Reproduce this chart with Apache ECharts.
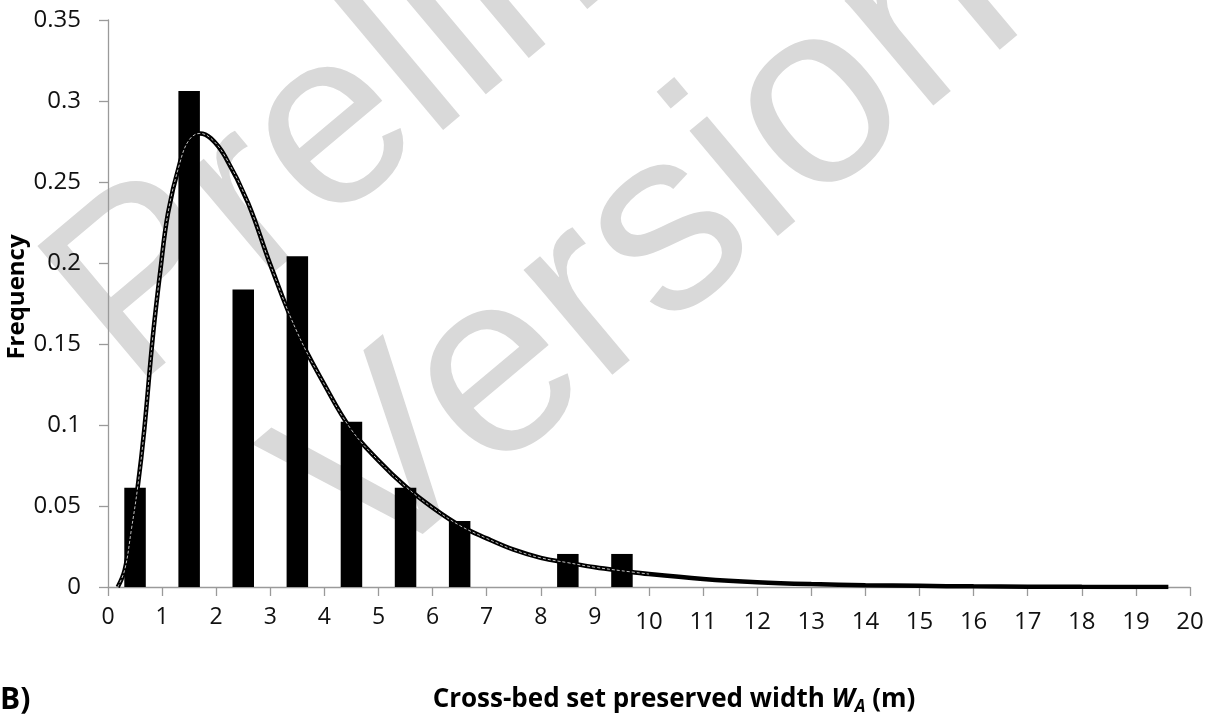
<!DOCTYPE html>
<html>
<head>
<meta charset="utf-8">
<script src="https://cdn.jsdelivr.net/npm/echarts@6/dist/echarts.min.js"></script>
<style>
html,body{margin:0;padding:0;background:#fff;}
#chart{width:1210px;height:726px;}
</style>
</head>
<body>
<div id="chart"></div>
<script>
// Histogram bins (bin centres, m) and frequencies
var binCentres = [0.5, 1.5, 2.5, 3.5, 4.5, 5.5, 6.5, 7.5, 8.5, 9.5];
var frequencies = [0.0612, 0.3061, 0.1837, 0.2041, 0.1020, 0.0612, 0.0408, 0, 0.0204, 0.0204];

// Fitted distribution curve
var curveX = [0.18, 0.31, 0.43, 0.55, 0.67, 0.83, 0.97, 1.11, 1.33, 1.5, 1.7, 1.9, 2.16, 2.59, 3.0, 3.5, 4.0, 4.5, 5.0, 5.5, 6.0, 6.5, 7.0, 7.5, 8.0, 8.5, 9.0, 9.5, 10, 11, 12, 13, 14, 15, 16, 17, 18, 19, 19.6];
var curveY = [0, 0.0107, 0.035, 0.062, 0.097, 0.155, 0.196, 0.231, 0.262, 0.276, 0.280, 0.277, 0.266, 0.237, 0.199, 0.157, 0.125, 0.097, 0.078, 0.062, 0.049, 0.038, 0.030, 0.023, 0.018, 0.0150, 0.0122, 0.0100, 0.0080, 0.0050, 0.0030, 0.0018, 0.0011, 0.0007, 0.0004, 0.0002, 0.0001, 0.00005, 0];

var yTicks = [0, 0.05, 0.1, 0.15, 0.2, 0.25, 0.3, 0.35];
var xTickMin = 0, xTickMax = 20;

var barData = binCentres.map(function (x, i) { return [x, frequencies[i]]; });
var curveData = curveX.map(function (x, i) { return [x, curveY[i]]; });
var innerData = curveData.filter(function (p) { return p[0] <= 10.2; });

var FONT = '"Open Sans", sans-serif';
var WM = '"Liberation Sans", Arial, sans-serif';
var chart = echarts.init(document.getElementById('chart'), null, {renderer: 'canvas'});
chart.setOption({
  backgroundColor: '#ffffff',
  animation: false,
  grid: {left: 108, right: 20, top: 20, bottom: 139, containLabel: false},
  xAxis: {
    type: 'value', min: xTickMin, max: xTickMax, interval: 1,
    axisLine: {lineStyle: {color: '#9a9a9a', width: 1.3}},
    axisTick: {show: true, length: 9, lineStyle: {color: '#9a9a9a', width: 1.3}},
    splitLine: {show: false},
    axisLabel: {
      margin: 19, color: '#111', fontFamily: FONT, fontSize: 24,
      formatter: function (v) { return v >= 10 ? '{b|' + v + '}' : '{a|' + v + '}'; },
      rich: {
        a: {fontFamily: FONT, fontSize: 23, color: '#111'},
        b: {fontFamily: FONT, fontSize: 24, color: '#111', padding: [4, 0, 0, 0]}
      }
    }
  },
  yAxis: {
    type: 'value', min: yTicks[0], max: yTicks[yTicks.length - 1], interval: 0.05,
    axisLine: {show: true, lineStyle: {color: '#9a9a9a', width: 1.3}},
    axisTick: {show: true, length: 9, lineStyle: {color: '#9a9a9a', width: 1.3}},
    splitLine: {show: false},
    axisLabel: {margin: 27, color: '#111', fontFamily: FONT, fontSize: 24,
      formatter: function (v) { return String(Math.round(v * 100) / 100); }}
  },
  graphic: [
    {type: 'text', z: -10, x: 88, y: 338, rotation: 40 * Math.PI / 180,
      style: {text: 'Preliminary', fontFamily: WM, fontSize: 250,
        fill: '#d9d9d9', align: 'left', verticalAlign: 'middle'}},
    {type: 'text', z: -10, x: 652, y: 248, rotation: 40 * Math.PI / 180,
      style: {text: 'Version', fontFamily: WM, fontSize: 260,
        fill: '#d9d9d9', align: 'center', verticalAlign: 'middle'}},
    {type: 'text', x: 17, y: 297, rotation: Math.PI / 2,
      style: {text: 'Frequency', fontFamily: FONT, fontWeight: 'bold', fontSize: 24,
        fill: '#000', align: 'center', verticalAlign: 'middle'}},
    {type: 'text', x: 0, y: 700,
      style: {text: 'B)', fontFamily: FONT, fontWeight: 'bold', fontSize: 30,
        fill: '#000', align: 'left', verticalAlign: 'middle'}},
    {type: 'text', x: 674, y: 700,
      style: {
        text: '{n|Cross-bed set preserved width }{i|W}{s|A}{n| (m)}',
        align: 'center', verticalAlign: 'middle',
        rich: {
          n: {fontFamily: FONT, fontWeight: 'bold', fontSize: 26, fill: '#000'},
          i: {fontFamily: FONT, fontWeight: 'bold', fontStyle: 'italic', fontSize: 26, fill: '#000'},
          s: {fontFamily: FONT, fontWeight: 'bold', fontStyle: 'italic', fontSize: 17, fill: '#000', padding: [14, 0, 0, 0]}
        }
      }}
  ],
  series: [
    {type: 'bar', data: barData, barWidth: 21.5, itemStyle: {color: '#000'}, z: 2},
    {type: 'line', data: curveData, smooth: 0.4, showSymbol: false,
      lineStyle: {color: '#000', width: 4.5}, z: 3},
    {type: 'line', data: innerData, smooth: 0.4, showSymbol: false,
      lineStyle: {color: '#ffffff', width: 0.9, type: [3, 2], opacity: 0.85}, z: 4}
  ]
});
</script>
</body>
</html>
